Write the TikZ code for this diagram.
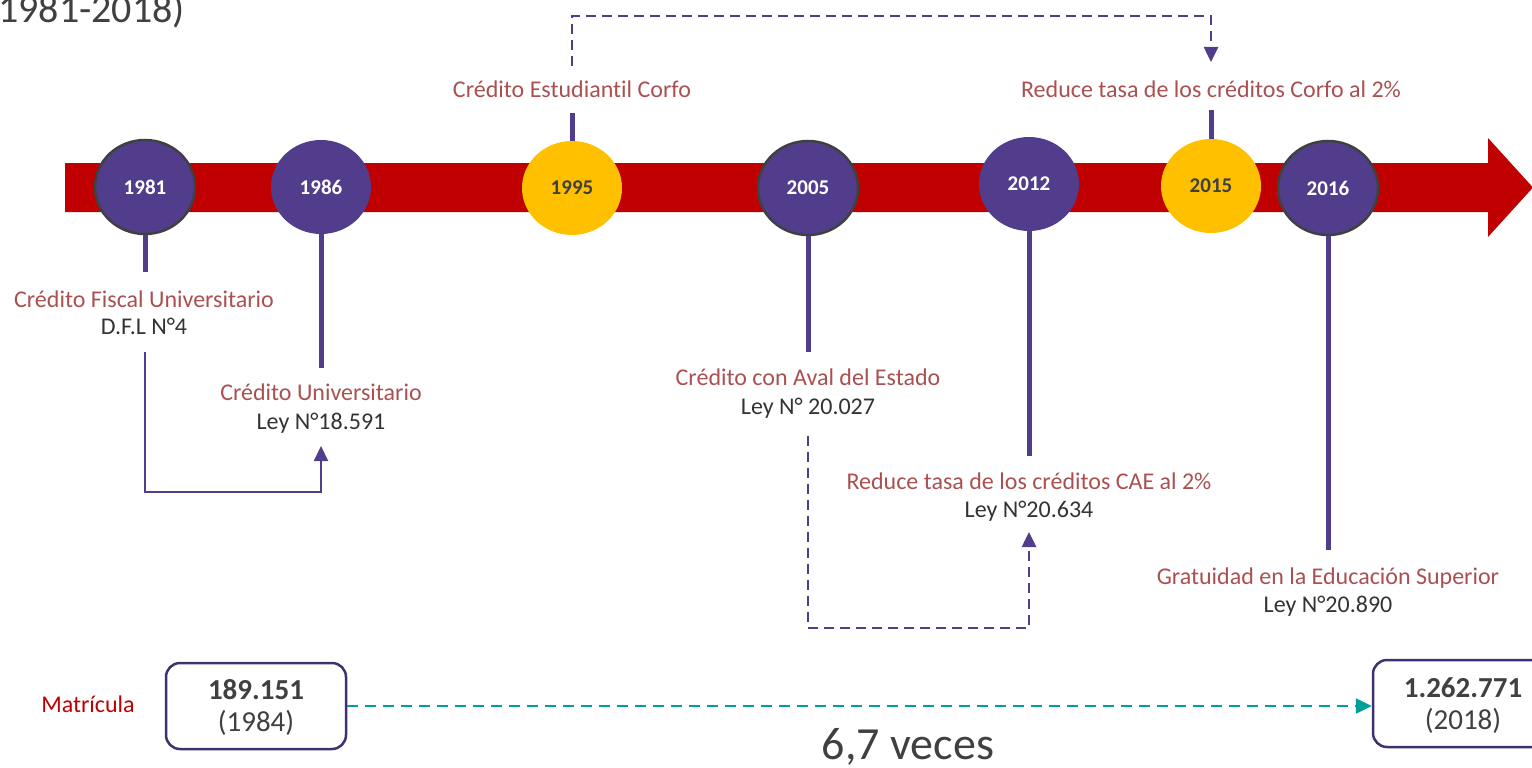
\documentclass[tikz,border=0pt]{standalone}
\usepackage{fontspec}
\setmainfont{Carlito}[Ligatures=NoCommon]
\usetikzlibrary{shapes.geometric,arrows.meta,calc}
\definecolor{bandred}{RGB}{192,0,0}
\definecolor{cpurple}{RGB}{82,61,140}
\definecolor{cyellow}{RGB}{255,192,0}
\definecolor{cborder}{RGB}{64,64,64}
\definecolor{lred}{RGB}{170,80,80}
\definecolor{dtext}{RGB}{51,51,51}
\definecolor{cteal}{RGB}{0,160,154}
\definecolor{boxline}{RGB}{65,48,110}
\begin{document}
\begin{tikzpicture}[x=1pt,y=-1pt,
 yr/.style={ellipse, minimum width=100pt, minimum height=94pt, inner sep=0pt, font=\fontsize{21}{24}\selectfont\bfseries},
 pc/.style={yr, fill=cpurple, text=white},
 yc/.style={yr, fill=cyellow, text=cborder},
 bd/.style={draw=cborder, line width=2.5pt},
 stem/.style={cpurple, line width=5pt},
 lab/.style={font=\fontsize{24}{28}\selectfont, text=lred, anchor=base, inner sep=0pt},
 law/.style={lab, text=dtext},
 conn/.style={cpurple, line width=2.2pt, -{Triangle[length=15pt,width=14pt]}},
 dconn/.style={conn, line width=2.6pt, dash pattern=on 10pt off 6pt},
 valbox/.style={draw=boxline, line width=2.5pt, rounded corners=14pt, minimum width=180pt, minimum height=86pt},
 valnum/.style={anchor=base, inner sep=0pt, text=cborder, font=\fontsize{29}{34}\selectfont\bfseries},
 valyr/.style={anchor=base, inner sep=0pt, text=cborder, font=\fontsize{29}{34}\selectfont},
]
\useasboundingbox (0,0) rectangle (1532,768);

% title (cut)
\node[anchor=base west, inner sep=0pt, text=cborder, font=\fontsize{40}{46}\selectfont] (title) at (-2,23) {1981-2018)};

% band arrow
\fill[bandred] (65,163) -- (1488,163) -- (1488,138) -- (1533,187.5) -- (1488,237) -- (1488,212) -- (65,212) -- cycle;

% circles
\node[pc,bd] (c81) at (145,187) {1981};
\node[pc]    (c86) at (321,187) {1986};
\node[yc]    (c95) at (572,188) {1995};
\node[pc,bd] (c05) at (808,188) {2005};
\node[pc]    (c12) at (1029,184) {2012};
\node[yc]    (c15) at (1211,186) {2015};
\node[pc,bd] (c16) at (1328,188) {2016};

% stem ends
\coordinate (t81) at (145,272);
\coordinate (t86) at (321,368);
\coordinate (t95) at (572,113);
\coordinate (t05) at (808,352);
\coordinate (t12) at (1029,456);
\coordinate (t15) at (1211,110);
\coordinate (t16) at (1328,550);

\draw[stem] (c81.south) -- (t81);
\draw[stem] (c86.south) -- (t86);
\draw[stem] (c95.north) -- (t95);
\draw[stem] (c05.south) -- (t05);
\draw[stem] (c12.south) -- (t12);
\draw[stem] (c15.north) -- (t15);
\draw[stem] (c16.south) -- (t16);

% labels
\node[lab] (l81a) at (144,307) {Crédito Fiscal Universitario};
\node[law] (l81b) at (144,334) {D.F.L N°4};
\node[lab] (l86a) at (321,400) {Crédito Universitario};
\node[law] (l86b) at (321,429) {Ley N°18.591};
\node[lab] (l95)  at (572,97) {Crédito Estudiantil Corfo};
\node[lab] (l15)  at (1211,97) {Reduce tasa de los créditos Corfo al 2\%};
\node[lab] (l05a) at (808,385) {Crédito con Aval del Estado};
\node[law] (l05b) at (808,414) {Ley N° 20.027};
\node[lab] (l12a) at (1029,489) {Reduce tasa de los créditos CAE al 2\%};
\node[law] (l12b) at (1029,517) {Ley N°20.634};
\node[lab] (l16a) at (1328,584) {Gratuidad en la Educación Superior};
\node[law] (l16b) at (1328,612) {Ley N°20.890};

% connectors
\coordinate (a1) at (145,352);
\coordinate (m1) at (233,492);
\coordinate (a2) at (321,446);
\draw[conn] (a1) |- (m1) -| (a2);

\coordinate (b1) at (808,436);
\coordinate (m2) at (918,628);
\coordinate (b2) at (1029,532);
\draw[dconn] (b1) |- (m2) -| (b2);

\coordinate (d1) at (572,66);
\coordinate (m3) at (890,16);
\coordinate (d2) at (1211,62);
\draw[dconn] (d1) |- (m3) -| (d2);

% enrolment boxes
\node[anchor=base, inner sep=0pt, text=bandred, font=\fontsize{24}{28}\selectfont] (mat) at (88,712) {Matrícula};
\node[valbox] (b84) at (256,706) {};
\node[valnum] (n84) at (256,699) {189.151};
\node[valyr]  (y84) at (256,731) {(1984)};
\node[valbox, minimum height=87pt] (b18) at (1463,703.5) {};
\node[valnum] (n18) at (1463,697) {1.262.771};
\node[valyr]  (y18) at (1463,729) {(2018)};

\draw[cteal, line width=2.5pt, dash pattern=on 11pt off 7pt, -{Triangle[length=16pt,width=15pt]}] (b84.east) -- (b84.east -| b18.west);

\node[anchor=base, inner sep=0pt, text=cborder, font=\fontsize{46}{52}\selectfont] (veces) at (908,759) {6,7 veces};
\end{tikzpicture}
\end{document}
